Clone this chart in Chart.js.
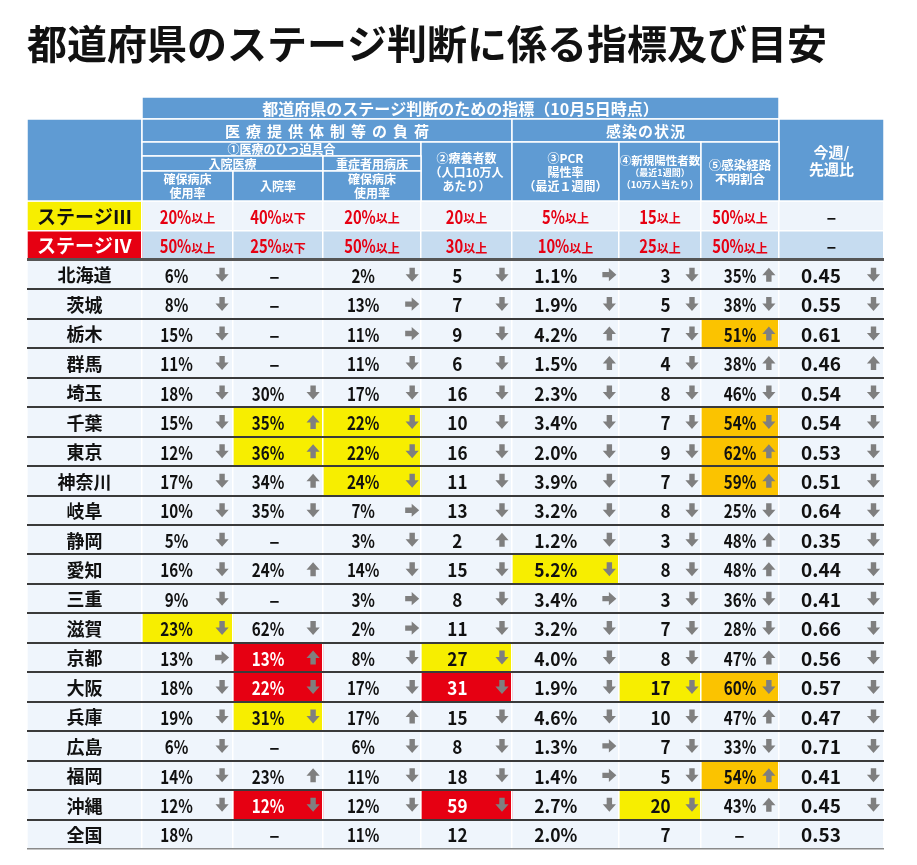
<!DOCTYPE html>
<html lang="ja">
<head>
<meta charset="utf-8">
<title>都道府県のステージ判断に係る指標及び目安</title>
<script src="https://cdn.jsdelivr.net/npm/chart.js@4.4.0/dist/chart.umd.min.js"></script>
<style>
  html, body { margin: 0; padding: 0; background: #fff; }
</style>
</head>
<body>
<canvas id="stageChart" width="917" height="865"></canvas>
<script>
// ---- data (10月5日時点) ----
const stageLabels = ['ステージⅢ', 'ステージⅣ'];
const stage3 = ['20%以上', '40%以下', '20%以上', '20以上', '5%以上', '15以上', '50%以上', '–'];
const stage4 = ['50%以上', '25%以下', '50%以上', '30以上', '10%以上', '25以上', '50%以上', '–'];

const prefectures = ['北海道', '茨城', '栃木', '群馬', '埼玉', '千葉', '東京', '神奈川', '岐阜', '静岡',
                     '愛知', '三重', '滋賀', '京都', '大阪', '兵庫', '広島', '福岡', '沖縄', '全国'];

// values per column, same order as prefectures
const bedUse      = ['6%', '8%', '15%', '11%', '18%', '15%', '12%', '17%', '10%', '5%',
                     '16%', '9%', '23%', '13%', '18%', '19%', '6%', '14%', '12%', '18%'];
const hospRate    = ['–', '–', '–', '–', '30%', '35%', '36%', '34%', '35%', '–',
                     '24%', '–', '62%', '13%', '22%', '31%', '–', '23%', '12%', '–'];
const severeBed   = ['2%', '13%', '11%', '11%', '17%', '22%', '22%', '24%', '7%', '3%',
                     '14%', '3%', '2%', '8%', '17%', '17%', '6%', '11%', '12%', '11%'];
const recuperating = ['5', '7', '9', '6', '16', '10', '16', '11', '13', '2',
                      '15', '8', '11', '27', '31', '15', '8', '18', '59', '12'];
const pcrRate     = ['1.1%', '1.9%', '4.2%', '1.5%', '2.3%', '3.4%', '2.0%', '3.9%', '3.2%', '1.2%',
                     '5.2%', '3.4%', '3.2%', '4.0%', '1.9%', '4.6%', '1.3%', '1.4%', '2.7%', '2.0%'];
const newCases    = ['3', '5', '7', '4', '8', '7', '9', '7', '8', '3',
                     '8', '3', '7', '8', '17', '10', '7', '5', '20', '7'];
const unknownRoute = ['35%', '38%', '51%', '38%', '46%', '54%', '62%', '59%', '25%', '48%',
                      '48%', '36%', '28%', '47%', '60%', '47%', '33%', '54%', '43%', '–'];
const weekRatio   = ['0.45', '0.55', '0.61', '0.46', '0.54', '0.54', '0.53', '0.51', '0.64', '0.35',
                     '0.44', '0.41', '0.66', '0.56', '0.57', '0.47', '0.71', '0.41', '0.45', '0.53'];

// trend arrows: d = down, u = up, r = flat, - = none (groups of five rows)
const bedUseTrend      = 'ddddd ddddd dddrd dddd-';
const hospRateTrend    = '----d uuud- u-dud d-ud-';
const severeBedTrend   = 'drrdd dddrd drrdd uddd-';
const recuperatingTrend = 'ddddd ddddu ddddd dddd-';
const pcrRateTrend     = 'rduud ddddd drddd drrd-';
const newCasesTrend    = 'ddddd ddddd ddddd dddd-';
const unknownRouteTrend = 'uduud duudu uddud uduu-';
const weekRatioTrend   = 'dddud ddddd ddddd dddd-';

// highlighted cells: Y = ステージⅢ相当, R = ステージⅣ相当, O = 経路不明 50%以上
const bedUseMark      = '..... ..... ..Y.. .....';
const hospRateMark    = '..... YY... ...RR Y..R.';
const severeBedMark   = '..... YYY.. ..... .....';
const recuperatingMark = '..... ..... ...YR ...R.';
const pcrRateMark     = '..... ..... Y.... .....';
const newCasesMark    = '..... ..... ....Y ...Y.';
const unknownRouteMark = '..O.. OOO.. ....O ..O..';
const weekRatioMark   = '..... ..... ..... .....';

// ---- layout ----
const FONT = '"Noto Sans CJK JP", "Noto Sans CJK SC", sans-serif';
const colEdges = [0, 115, 206, 296, 394, 485, 592, 674, 752, 857];
const valueAt = [0.38, 0.39, 0.41, 0.40, 0.41, 0.63, 0.71, 0.40];
const valueAlign = ['center', 'center', 'center', 'center', 'center', 'right', 'right', 'center'];
const condense = [0.8, 0.8, 0.8, 0.9, 0.92, 0.9, 0.8, 1];
const arrowAt = [0.88, 0.89, 0.91, 0.89, 0.91, 0.89, 0.87, 0.90];
const headerRows = [22, 23, 14, 15, 30];

const headBlue = '#5f9bd3';
const bodyBg = '#eff5fc';
const stageRowBg = ['#eef4fb', '#c6dcf0'];
const stageCellBg = ['#f7ee00', '#e60012'];
const markColors = { Y: '#f7ee00', O: '#fbc300', R: '#e60012' };

const chars = s => s.replace(/ /g, '').split('');

const cols = [
	{ vals: bedUse, trend: chars(bedUseTrend), mark: chars(bedUseMark) },
	{ vals: hospRate, trend: chars(hospRateTrend), mark: chars(hospRateMark) },
	{ vals: severeBed, trend: chars(severeBedTrend), mark: chars(severeBedMark) },
	{ vals: recuperating, trend: chars(recuperatingTrend), mark: chars(recuperatingMark) },
	{ vals: pcrRate, trend: chars(pcrRateTrend), mark: chars(pcrRateMark) },
	{ vals: newCases, trend: chars(newCasesTrend), mark: chars(newCasesMark) },
	{ vals: unknownRoute, trend: chars(unknownRouteTrend), mark: chars(unknownRouteMark) },
	{ vals: weekRatio, trend: chars(weekRatioTrend), mark: chars(weekRatioMark) }
];

const headerCells = [
	{ c: [1, 8], r: [0, 1], lines: [['都道府県のステージ判断のための指標（10月5日時点）', 16]] },
	{ c: [0, 1], r: [1, 5], lines: [] },
	{ c: [1, 5], r: [1, 2], lines: [['医療提供体制等の負荷', 15]], ls: 6 },
	{ c: [5, 8], r: [1, 2], lines: [['感染の状況', 15]], ls: 1 },
	{ c: [8, 9], r: [1, 5], lines: [['今週/', 15], ['先週比', 15]] },
	{ c: [1, 4], r: [2, 3], lines: [['①医療のひっ迫具合', 12]] },
	{ c: [4, 5], r: [2, 5], lines: [['②療養者数', 12], ['（人口10万人', 12], ['あたり）', 12]] },
	{ c: [5, 6], r: [2, 5], lines: [['③PCR', 12], ['陽性率', 12], ['（最近１週間）', 12]] },
	{ c: [6, 7], r: [2, 5], lines: [['④新規陽性者数', 11.5], ['（最近1週間）', 9], ['（10万人当たり）', 9.5]] },
	{ c: [7, 8], r: [2, 5], lines: [['⑤感染経路', 12.5], ['不明割合', 12.5]] },
	{ c: [1, 3], r: [3, 4], lines: [['入院医療', 12]] },
	{ c: [3, 4], r: [3, 4], lines: [['重症者用病床', 12]] },
	{ c: [1, 2], r: [4, 5], lines: [['確保病床', 12], ['使用率', 12]] },
	{ c: [2, 3], r: [4, 5], lines: [['入院率', 12]] },
	{ c: [3, 4], r: [4, 5], lines: [['確保病床', 12], ['使用率', 12]] }
];

const rowLabels = stageLabels.concat(prefectures);

function cellColor(k, i)
{
	if (k === 0)
		return i < 2 ? stageCellBg[i] : bodyBg;
	if (i < 2)
		return stageRowBg[i];
	return markColors[cols[k - 1].mark[i - 2]] || bodyBg;
}

function drawArrow(ctx, x, y, dir)
{
	ctx.save();
	ctx.translate(x, y);
	if (dir === 'u') ctx.rotate(Math.PI);
	if (dir === 'r') ctx.rotate(-Math.PI / 2);
	ctx.beginPath();
	ctx.moveTo(-2.7, -7);
	ctx.lineTo(2.7, -7);
	ctx.lineTo(2.7, -0.5);
	ctx.lineTo(6.6, -0.5);
	ctx.lineTo(0, 7);
	ctx.lineTo(-6.6, -0.5);
	ctx.lineTo(-2.7, -0.5);
	ctx.closePath();
	ctx.fillStyle = '#7f7f7f';
	ctx.fill();
	ctx.restore();
}

// squeezed text, the table uses a narrow gothic face
function fillNarrow(ctx, text, x, y, f)
{
	ctx.save();
	ctx.translate(x, y);
	ctx.scale(f, 1);
	ctx.fillText(text, 0, 0);
	ctx.restore();
}

// header block and all cell texts
const tableText = {
	id: 'tableText',
	afterDraw(chart) {
		const { ctx, chartArea, scales: { x, y } } = chart;
		const ex = i => x.getPixelForValue(colEdges[i]);

		// header rows sit right above the chart area
		const hy = [chartArea.top];
		for (let i = headerRows.length - 1; i >= 0; i--)
			hy.unshift(hy[0] - headerRows[i]);

		ctx.save();
		ctx.textBaseline = 'middle';
		ctx.textAlign = 'center';
		headerCells.forEach(cell => {
			const x0 = ex(cell.c[0]), x1 = ex(cell.c[1]);
			const y0 = hy[cell.r[0]], y1 = hy[cell.r[1]];
			ctx.fillStyle = headBlue;
			ctx.fillRect(x0, y0, x1 - x0, y1 - y0);
			ctx.strokeStyle = '#ffffff';
			ctx.lineWidth = 1.5;
			ctx.strokeRect(x0, y0, x1 - x0, y1 - y0);

			const total = cell.lines.reduce((s, l) => s + l[1] + 2, 0);
			let ty = (y0 + y1) / 2 - total / 2;
			ctx.fillStyle = '#ffffff';
			ctx.letterSpacing = (cell.ls || 0) + 'px';
			cell.lines.forEach(([t, size]) => {
				ctx.font = `bold ${size}px ${FONT}`;
				ctx.fillText(t, (x0 + x1) / 2 + (cell.ls || 0) / 2, ty + (size + 2) / 2 + 0.5);
				ty += size + 2;
			});
			ctx.letterSpacing = '0px';
		});

		rowLabels.forEach((name, i) => {
			const cy = y.getPixelForValue(i) + 1;

			// first column: stage / prefecture name
			ctx.textAlign = 'center';
			ctx.font = `bold ${i < 2 ? 19 : 18}px ${FONT}`;
			ctx.fillStyle = i === 1 ? '#ffffff' : '#111111';
			ctx.fillText(name, (ex(0) + ex(1)) / 2, cy);

			for (let k = 1; k <= 8; k++) {
				const x0 = ex(k), x1 = ex(k + 1), w = x1 - x0;
				if (i < 2) {
					const s = (i === 0 ? stage3 : stage4)[k - 1];
					const m = s.match(/^([\d%]+)(.*)$/);
					if (!m) {
						ctx.font = `bold 18px ${FONT}`;
						ctx.fillStyle = '#111111';
						ctx.textAlign = 'center';
						ctx.fillText(s, (x0 + x1) / 2, cy);
						continue;
					}
					const f = 0.82;
					ctx.font = `bold 18px ${FONT}`;
					const w1 = ctx.measureText(m[1]).width * f;
					ctx.font = `bold 12px ${FONT}`;
					const w2 = ctx.measureText(m[2]).width;
					const sx = (x0 + x1) / 2 - (w1 + w2) / 2;
					ctx.fillStyle = '#e60012';
					ctx.textAlign = 'left';
					ctx.font = `bold 18px ${FONT}`;
					fillNarrow(ctx, m[1], sx, cy, f);
					ctx.font = `bold 12px ${FONT}`;
					ctx.fillText(m[2], sx + w1, cy + 2);
					continue;
				}

				const col = cols[k - 1];
				const r = i - 2;
				const v = col.vals[r];
				ctx.font = `bold 19px ${FONT}`;
				ctx.fillStyle = col.mark[r] === 'R' ? '#ffffff' : '#111111';
				if (v === '–') {
					ctx.textAlign = 'center';
					const dx = valueAlign[k - 1] === 'right' ? x0 + w * valueAt[k - 1] - 17 : x0 + w * 0.46;
					ctx.fillText(v, dx, cy);
				} else {
					ctx.textAlign = valueAlign[k - 1];
					fillNarrow(ctx, v, x0 + w * valueAt[k - 1], cy, condense[k - 1]);
				}
				const t = col.trend[r];
				if (t !== '-')
					drawArrow(ctx, x0 + w * arrowAt[k - 1], cy - 1, t);
			}
		});
		ctx.restore();
	}
};

new Chart(document.getElementById('stageChart'), {
	type: 'bar',
	data: {
		labels: rowLabels,
		datasets: colEdges.slice(0, -1).map((edge, k) => ({
			label: 'col' + k,
			data: rowLabels.map(() => [colEdges[k], colEdges[k + 1]]),
			backgroundColor: c => cellColor(k, c.dataIndex),
			borderWidth: 0,
			barPercentage: 1,
			categoryPercentage: 1,
			grouped: false
		}))
	},
	options: {
		indexAxis: 'y',
		responsive: false,
		animation: false,
		events: [],
		layout: { padding: { left: 27, right: 33, top: 0, bottom: 16 } },
		plugins: {
			legend: { display: false },
			tooltip: { enabled: false },
			title: {
				display: true,
				text: '都道府県のステージ判断に係る指標及び目安',
				align: 'start',
				color: '#111111',
				font: { family: FONT, size: 40, weight: 'bold', lineHeight: 1.2 },
				padding: { top: 20, bottom: 133 }
			}
		},
		scales: {
			x: {
				type: 'linear',
				min: 0,
				max: 857,
				ticks: { display: false },
				border: { display: false },
				grid: { color: '#ffffff', lineWidth: 1.5, drawTicks: false, z: 1 },
				afterBuildTicks: s => { s.ticks = colEdges.map(v => ({ value: v })); }
			},
			y: {
				type: 'category',
				ticks: { display: false },
				border: { display: false },
				grid: {
					offset: true,
					drawTicks: false,
					z: 2,
					color: c => {
						if (c.type !== 'tick') return '#8a8a8a';
						if (c.index <= 1) return '#ffffff';
						return c.index === 2 ? '#555555' : '#3a3a3a';
					},
					lineWidth: c => {
						if (c.type !== 'tick') return 1.5;
						if (c.index <= 1) return 1.5;
						return c.index === 2 ? 3 : 2;
					}
				}
			}
		}
	},
	plugins: [tableText]
});
</script>
</body>
</html>
